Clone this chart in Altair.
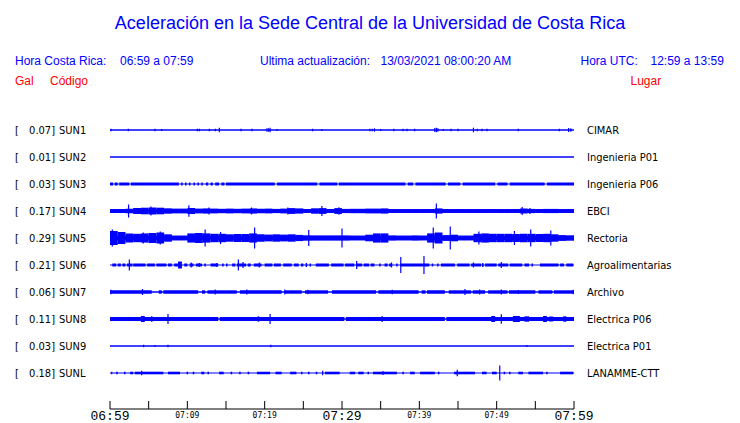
import altair as alt
import pandas as pd

# ---------------- data ----------------
CODES = ["SUN1", "SUN2", "SUN3", "SUN4", "SUN5", "SUN6", "SUN7", "SUN8", "SUN9", "SUNL"]
PLACES = ["CIMAR", "Ingenieria P01", "Ingenieria P06", "EBCI", "Rectoria",
          "Agroalimentarias", "Archivo", "Electrica P06", "Electrica P01", "LANAMME-CTT"]
PEAK_GAL = ["0.07", "0.01", "0.03", "0.17", "0.29", "0.21", "0.06", "0.11", "0.03", "0.18"]

# quiet-level half amplitude of each trace (relative units)
BASE_HALF = [0.65, 0.65, 0.6, 1.8, 2.3, 0.6, 0.75, 0.75, 0.65, 0.6]

# per-minute envelopes (half amplitude) for the two loud traces
SUN4_ENV = [2.0, 2.0, 2.2, 3.0, 3.3, 3.5, 3.3, 2.7, 2.4, 2.4,
            3.0, 2.4, 2.6, 2.4, 2.2, 2.4, 2.2, 2.4, 2.6, 2.2,
            2.4, 2.1, 2.4, 2.9, 2.6, 1.9, 2.7, 2.9, 1.9, 2.9,
            2.1, 2.2, 2.2, 2.4, 2.4, 2.6, 1.9, 1.9, 1.9, 1.9,
            1.9, 1.9, 2.6, 1.9, 1.9, 1.9, 1.9, 1.9, 1.9, 1.9,
            1.9, 1.9, 1.9, 2.6, 2.1, 1.9, 2.1, 2.1, 1.9, 1.9]
SUN5_ENV = [7.0, 6.0, 4.6, 4.2, 4.6, 5.0, 5.5, 3.7, 2.3, 2.3,
            4.6, 5.0, 4.6, 4.2, 4.2, 3.7, 4.0, 4.0, 4.6, 3.7,
            3.4, 3.7, 3.4, 3.7, 3.1, 2.6, 2.5, 2.5, 2.5, 2.5,
            2.5, 2.3, 2.3, 3.3, 4.6, 4.6, 2.5, 2.3, 2.3, 2.5,
            2.3, 4.6, 5.5, 2.9, 3.3, 2.3, 2.3, 4.2, 4.6, 4.2,
            4.2, 4.2, 4.0, 4.2, 4.2, 4.0, 4.2, 3.7, 2.9, 2.6]

# active segments: (start minute, end minute, half amplitude)
SUN3_SEG = [(0, 0.4, 1.5), (0.6, 1.0, 1.5), (1.2, 2.5, 1.5), (2.7, 8.9, 1.5), (9.2, 9.4, 1.5),
            (9.7, 9.9, 1.5), (10.2, 10.4, 1.5), (10.8, 11.0, 1.5), (11.3, 11.5, 1.5),
            (11.8, 12.0, 1.5), (12.4, 12.7, 1.5), (13.0, 13.3, 1.5), (13.6, 14.1, 1.5),
            (14.4, 14.8, 1.5), (15.0, 21.3, 1.5), (21.6, 26.8, 1.5), (27.1, 29.4, 1.5),
            (29.6, 38.2, 1.5), (38.5, 39.2, 1.5), (39.5, 43.4, 1.5), (43.7, 45.3, 1.5),
            (45.6, 49.8, 1.5), (50.1, 51.4, 1.5), (51.7, 56.2, 1.5), (56.5, 60, 1.5)]
SUN6_SEG = [(0.3, 0.8, 1.5), (1.0, 1.4, 1.5), (1.6, 2.0, 1.5), (2.2, 2.9, 1.5), (3.0, 4.6, 1.5),
            (4.8, 5.8, 1.5), (6.0, 7.3, 1.5), (7.5, 8.0, 1.5), (8.3, 8.8, 1.5), (8.8, 9.3, 3.5),
            (9.6, 10.0, 1.5), (10.3, 10.8, 1.5), (11.1, 11.9, 1.5), (12.2, 12.4, 1.5),
            (13.0, 14.0, 1.5), (14.5, 14.7, 1.5), (15.0, 15.2, 1.5), (15.8, 16.2, 1.5),
            (16.4, 17.6, 1.5), (17.8, 18.2, 1.5), (18.6, 19.6, 1.5), (20.0, 21.0, 1.5),
            (21.2, 22.1, 1.5), (22.4, 23.5, 1.5), (23.8, 24.4, 1.5), (24.7, 25.0, 1.5),
            (25.3, 25.5, 1.5), (25.8, 26.0, 1.5), (26.6, 28.3, 1.5), (28.6, 30.2, 1.5),
            (30.4, 31.6, 1.5), (31.8, 32.6, 1.5), (32.8, 33.5, 1.5), (33.7, 34.2, 1.5),
            (34.8, 35.0, 1.5), (35.5, 35.9, 1.5), (36.1, 36.5, 1.5), (37.0, 37.2, 1.5),
            (37.5, 41.3, 1.5), (41.6, 41.8, 1.5), (42.3, 42.5, 1.5), (42.8, 44.6, 1.5),
            (44.9, 46.5, 1.5), (46.7, 48.0, 1.5), (48.1, 48.3, 1.5), (48.5, 50.0, 1.5),
            (50.2, 51.5, 1.5), (51.7, 53.3, 1.5), (53.6, 54.2, 1.5), (54.5, 54.7, 1.5),
            (55.6, 58.0, 1.5), (58.2, 58.7, 1.5), (59.0, 59.9, 1.5)]
SUN7_SEG = [(0, 5.4, 1.7), (6.3, 6.7, 1.7), (6.9, 11.4, 1.7), (11.9, 12.3, 1.7), (12.6, 16.4, 1.7),
            (16.8, 22.2, 1.7), (22.6, 24.8, 1.7), (25.2, 28.2, 1.7), (28.7, 34.4, 1.7),
            (34.7, 39.9, 1.7), (40.3, 40.8, 1.7), (41.0, 43.3, 1.7), (43.8, 46.7, 1.7),
            (46.9, 48.5, 1.7), (48.9, 51.4, 1.7), (51.6, 55.0, 1.7), (55.4, 57.2, 1.7),
            (57.4, 60, 1.7)]
SUN8_SEG = [(0, 14.0, 2.0), (14.2, 30.3, 2.0), (30.5, 43.3, 2.0), (43.5, 60, 2.0),
            (4.0, 4.5, 3.0), (5.3, 5.5, 2.7), (19.1, 19.3, 2.7), (35.1, 35.3, 2.7),
            (49.3, 49.8, 3.0), (52.1, 53.0, 3.0), (53.6, 54.2, 2.7), (56.0, 56.5, 3.0),
            (56.8, 57.3, 2.5), (58.6, 59.0, 2.7)]
SUNL_SEG = [(0.15, 0.3, 1.3), (0.8, 1.0, 1.3), (1.8, 2.0, 1.3), (2.6, 3.0, 1.3), (3.2, 6.9, 1.3),
            (7.5, 9.05, 1.3), (9.9, 10.1, 1.3), (10.7, 10.9, 1.3), (11.8, 12.2, 1.3),
            (12.6, 12.8, 1.3), (14.1, 14.7, 1.3), (15.6, 15.8, 1.3), (16.7, 16.9, 1.3),
            (17.8, 18.0, 1.3), (19.0, 20.7, 1.3), (21.4, 22.2, 1.3), (23.3, 24.1, 1.3),
            (24.7, 24.9, 1.3), (25.6, 25.8, 1.3), (26.6, 26.8, 1.3), (27.8, 29.7, 1.3),
            (31.0, 31.7, 1.3), (32.1, 32.8, 1.3), (33.3, 33.5, 1.3), (34.0, 37.1, 1.3),
            (37.8, 38.0, 1.3), (38.8, 39.4, 1.3), (40.1, 42.0, 1.3), (42.4, 42.6, 1.3),
            (44.5, 47.2, 1.3), (48.1, 48.7, 1.3), (49.4, 50.0, 1.3), (50.9, 51.1, 1.3),
            (51.6, 51.8, 1.3), (52.8, 53.4, 1.3), (54.1, 56.0, 1.3), (56.4, 56.6, 1.3),
            (58.2, 59.9, 1.3)]

# isolated spikes: (minute, half amplitude)
SUN1_SPK = [(0.13, 1.3), (2.37, 1.3), (5.82, 1.3), (6.68, 1.0), (11.3, 1.3), (11.55, 1.3),
            (12.84, 1.3), (13.62, 1.3), (14.14, 2.3), (16.94, 1.3), (18.36, 1.3), (20.3, 1.7),
            (20.5, 1.7), (20.7, 2.3), (21.6, 1.0), (26.2, 1.3), (27.4, 1.0), (33.6, 1.3),
            (33.9, 1.3), (34.2, 1.7), (35.0, 1.0), (36.7, 1.3), (37.9, 1.3), (38.4, 1.3),
            (39.4, 1.3), (42.0, 2.0), (42.2, 2.3), (42.4, 1.7), (43.1, 1.0), (44.1, 1.3),
            (45.0, 1.3), (47.0, 2.3), (47.5, 1.3), (48.1, 1.3), (48.75, 1.3), (52.8, 1.3),
            (58.1, 1.3), (59.3, 2.0), (59.6, 1.7)]
SUN2_SPK = []
SUN3_SPK = []
SUN4_SPK = [(2.4, 6.5), (5.3, 4.5), (10.2, 5.7), (12.8, 3.5), (18.3, 3.5), (23.0, 3.5),
            (27.4, 5.0), (29.6, 3.8), (42.2, 7.5), (53.3, 4.0), (54.3, 3.0)]
SUN5_SPK = [(0.3, 8.5), (4.3, 5.5), (6.5, 6.5), (12.3, 8.5), (14.3, 6.0), (18.7, 10.5),
            (25.7, 8.0), (30.0, 9.5), (41.8, 10.5), (44.0, 11.5), (47.7, 6.5), (52.3, 7.0),
            (54.4, 8.5), (57.0, 7.5)]
SUN6_SPK = [(2.5, 5.5), (10.5, 2.5), (11.55, 2.0), (13.8, 2.0), (16.6, 5.5), (17.2, 3.0),
            (19.3, 2.5), (25.4, 2.0), (31.9, 4.0), (36.4, 2.5), (37.6, 8.0), (40.6, 9.0),
            (47.0, 2.5), (48.2, 2.0), (50.6, 3.0)]
SUN7_SPK = [(0.1, 2.3), (4.2, 3.0), (13.6, 2.5), (17.7, 2.5), (22.6, 2.5), (25.6, 2.3),
            (36.5, 2.3), (45.9, 3.0), (47.8, 2.5), (50.6, 2.5), (52.8, 2.0), (59.9, 2.3)]
SUN8_SPK = [(7.5, 5.0), (20.7, 5.0), (50.6, 4.7)]
SUN9_SPK = [(4.35, 1.2), (5.8, 0.9), (7.5, 1.3), (20.8, 1.3), (53.9, 1.0)]
SUNL_SPK = [(4.1, 2.3), (27.5, 2.3), (35.3, 2.0), (44.9, 3.2), (50.4, 7.5)]

SEGMENTS = {"SUN3": SUN3_SEG, "SUN6": SUN6_SEG, "SUN7": SUN7_SEG, "SUN8": SUN8_SEG, "SUNL": SUNL_SEG}
ENVELOPES = {"SUN4": SUN4_ENV, "SUN5": SUN5_ENV}
SPIKES = {"SUN1": SUN1_SPK, "SUN2": SUN2_SPK, "SUN3": SUN3_SPK, "SUN4": SUN4_SPK, "SUN5": SUN5_SPK,
          "SUN6": SUN6_SPK, "SUN7": SUN7_SPK, "SUN8": SUN8_SPK, "SUN9": SUN9_SPK, "SUNL": SUNL_SPK}

TICK_MIN = [0, 5, 10, 15, 20, 25, 30, 35, 40, 45, 50, 55, 60]
MAJOR_T = [0, 30, 60]
MAJOR_LBL = ["06:59", "07:29", "07:59"]
MINOR_T = [10, 20, 40, 50]
MINOR_LBL = ["07:09", "07:19", "07:39", "07:49"]

TITLE = "Aceleración en la Sede Central de la Universidad de Costa Rica"

# ---------------- layout ----------------
W, H = 724, 415
ROW = 27
BLUE = "#0000ff"
RED = "#ff0000"
SANS = "Liberation Sans, Arial, sans-serif"
LBL = "DejaVu Sans Condensed, DejaVu Sans, sans-serif"
MONO = "Liberation Mono, DejaVu Sans Mono, monospace"

xs = alt.Scale(domain=[0, 60], range=[102, 566], nice=False, zero=False)
ys = alt.Scale(domain=[0, 9 * ROW], range=[122, 365], nice=False, zero=False)

rects, spikes = [], []
for i, code in enumerate(CODES):
    c = i * ROW
    b = BASE_HALF[i]
    rects.append({"t0": 0, "t1": 60, "lo": c - b, "hi": c + b})
    for (s, e, a) in SEGMENTS.get(code, []):
        rects.append({"t0": s, "t1": e, "lo": c - a, "hi": c + a})
    for k, a in enumerate(ENVELOPES.get(code, [])):
        rects.append({"t0": k, "t1": k + 1, "lo": c - a, "hi": c + a})
    for (t, a) in SPIKES[code]:
        spikes.append({"t": t, "lo": c - a, "hi": c + a})

rect_df = pd.DataFrame(rects)
spike_df = pd.DataFrame(spikes)
rows_df = pd.DataFrame({"c": [i * ROW for i in range(len(CODES))], "code": CODES, "place": PLACES,
                        "val": [v + "]" for v in PEAK_GAL], "br": ["["] * len(CODES)})

traces = alt.Chart(rect_df).mark_rect(color=BLUE, strokeWidth=0).encode(
    x=alt.X("t0:Q", scale=xs, axis=None), x2="t1:Q",
    y=alt.Y("lo:Q", scale=ys, axis=None), y2="hi:Q")
spk = alt.Chart(spike_df).mark_rule(color=BLUE, strokeWidth=1.2).encode(
    x=alt.X("t:Q", scale=xs, axis=None),
    y=alt.Y("lo:Q", scale=ys, axis=None), y2="hi:Q")


def row_text(field, x, align):
    return alt.Chart(rows_df).mark_text(align=align, baseline="alphabetic", dy=4, fontSize=11,
                                        font=LBL, color="#000000").encode(
        x=alt.value(x), y=alt.Y("c:Q", scale=ys, axis=None), text=f"{field}:N")


def txt(s, x, y, size, color, font=SANS, align="left"):
    return alt.Chart(pd.DataFrame({"s": [s]})).mark_text(
        align=align, baseline="alphabetic", fontSize=size, font=font, color=color).encode(
        x=alt.value(x), y=alt.value(y), text="s:N")


axis_df = pd.DataFrame({"t0": [0], "t1": [60]})
axis_line = alt.Chart(axis_df).mark_rule(color="#000000", strokeWidth=1).encode(
    x=alt.X("t0:Q", scale=xs, axis=None), x2="t1:Q", y=alt.value(401))
ticks = alt.Chart(pd.DataFrame({"t": TICK_MIN})).mark_rule(color="#000000", strokeWidth=1).encode(
    x=alt.X("t:Q", scale=xs, axis=None), y=alt.value(393), y2=alt.value(401))
major = alt.Chart(pd.DataFrame({"t": MAJOR_T, "l": MAJOR_LBL})).mark_text(
    align="center", baseline="alphabetic", fontSize=13, font=MONO, color="#000000").encode(
    x=alt.X("t:Q", scale=xs, axis=None), y=alt.value(412), text="l:N")
minor = alt.Chart(pd.DataFrame({"t": MINOR_T, "l": MINOR_LBL})).mark_text(
    align="center", baseline="alphabetic", fontSize=8, font="DejaVu Sans Mono, monospace",
    color="#000000").encode(
    x=alt.X("t:Q", scale=xs, axis=None), y=alt.value(410), text="l:N")

header = [
    txt(TITLE, 362, 21, 18, BLUE, align="center"),
    txt("Hora Costa Rica:", 7, 57, 12, BLUE),
    txt("06:59 a 07:59", 112, 57, 12, BLUE),
    txt("Ultima actualización:", 252, 57, 12, BLUE),
    txt("13/03/2021 08:00:20 AM", 372.5, 57, 12, BLUE),
    txt("Hora UTC:", 572.5, 57, 12, BLUE),
    txt("12:59 a 13:59", 642.5, 57, 12, BLUE),
    txt("Gal", 7, 76.5, 12, RED),
    txt("Código", 42, 76.5, 12, RED),
    txt("Lugar", 622.5, 76.5, 12, RED),
]

chart = alt.layer(
    traces, spk, axis_line, ticks, major, minor,
    row_text("br", 7, "left"), row_text("val", 47, "right"), row_text("code", 51, "left"),
    row_text("place", 579, "left"),
    *header
).properties(width=W, height=H, padding=0, autosize=alt.AutoSizeParams(type="none")
).configure_view(stroke=None)

chart.save("out.html", embed_options={"renderer": "svg", "actions": False})
